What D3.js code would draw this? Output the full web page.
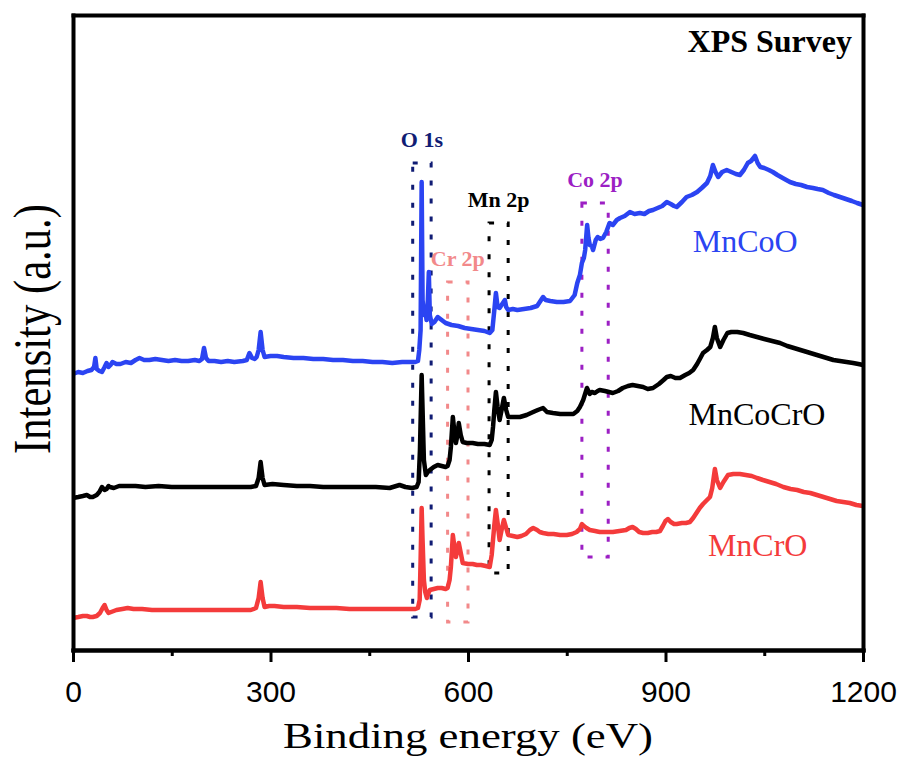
<!DOCTYPE html>
<html lang="en">
<head>
<meta charset="utf-8">
<script src="https://cdn.jsdelivr.net/npm/d3@7"></script>
<style>
  body { margin: 0; background: #fff; }
  svg { display: block; }
</style>
</head>
<body>
<div id="chart"></div>
<script>
// survey spectra: [binding energy (eV), intensity (a.u., stacked)]
var mnCoO = [[0,276],[8,278],[15,277],[22,279],[28,280],[32,283],[34,292],[36,281],[40,279],[44,278],[48,283],[51,287],[54,283],[57,285],[60,288],[66,286],[72,286],[80,288],[88,287],[95,290],[101,292],[108,290],[116,290],[125,291],[135,290],[145,289],[155,290],[165,289],[175,289],[185,290],[192,289],[196,291],[199,302],[202,292],[206,289],[215,289],[225,288],[235,289],[245,288],[258,289],[264,290],[268,297],[272,292],[276,291],[279,293],[282,300],[285,318],[288,300],[291,293],[300,294],[310,294],[320,293],[335,292],[350,292],[365,291],[380,291],[395,290],[410,290],[425,289],[440,289],[455,288],[470,288],[485,287],[500,288],[512,288],[520,288],[524,289],[526,300],[528,320],[529.6,468],[531,350],[533,335],[535,342],[537,330],[539,350],[540.5,378],[542,335],[545,326],[549,328],[554,333],[560,330],[566,327],[575,325],[585,324],[595,322],[605,321],[615,320],[625,319],[633,317],[637,320],[640,340],[642.4,357],[645,343],[648,342],[651,345],[654,348],[656,350],[658,343],[661,340],[668,341],[675,340],[685,341],[695,342],[705,344],[711,350],[714,353],[718,350],[725,349],[735,348],[745,348],[755,349],[762,355],[766,367],[770,375],[773,387],[776,392],[778,400],[781,425],[783,412],[785,405],[788,404],[790,400],[794,410],[797,413],[801,411],[805,412],[810,418],[815,427],[820,425],[826,430],[831,432],[838,434],[846,438],[853,436],[861,437],[868,436],[875,439],[881,440],[888,442],[895,444],[902,448],[908,446],[913,444],[917,443],[925,448],[932,453],[940,455],[948,458],[955,462],[963,467],[968,474],[972,485],[976,478],[980,473],[986,478],[993,480],[1000,478],[1007,476],[1013,475],[1019,480],[1025,487],[1030,489],[1036,494],[1040,487],[1044,483],[1050,482],[1057,480],[1063,478],[1070,475],[1078,472],[1089,468],[1098,466],[1106,465],[1115,463],[1124,462],[1131,461],[1139,460],[1148,457],[1156,455],[1165,453],[1174,451],[1183,449],[1191,447],[1200,445]];

var mnCoCrO = [[0,152],[8,153],[15,154],[21,155],[26,153],[30,153],[36,155],[40,158],[44,163],[48,160],[51,161],[54,164],[56,163],[62,162],[70,164],[82,164],[95,164],[110,163],[130,164],[150,163],[175,163],[200,163],[225,163],[250,163],[270,163],[278,164],[282,172],[285,188],[288,172],[291,165],[303,166],[320,165],[340,164],[360,164],[380,163],[400,163],[420,163],[440,163],[460,163],[481,162],[496,165],[505,163],[515,162],[522,163],[525,168],[527,200],[529.6,275],[531,240],[533,190],[536,175],[539,178],[542,180],[548,183],[554,185],[560,184],[566,183],[569,184],[572,190],[574,203],[577,233],[579,220],[581.6,207],[584,215],[586,227],[589,215],[592,208],[598,207],[607,207],[615,206],[625,206],[633,205],[636,210],[638,223],[640,240],[642.4,258],[645,243],[648,230],[651,240],[654.5,252],[658,240],[661,233],[668,233],[679,233],[689,235],[699,238],[706,240],[714,242],[720,238],[729,237],[740,236],[750,236],[760,236],[766,239],[770,243],[775,250],[780.7,262],[785,256],[788,258],[792.8,257],[797,259],[800,260],[808,259],[814,258],[820,257],[828,259],[835,262],[843,264],[850,265],[858,264],[866,263],[873,261],[881,262],[890,266],[897,270],[902,273],[908,274],[915,272],[922,272],[930,275],[936,277],[942,280],[948,286],[953,292],[957,297],[963,300],[968,303],[972,312],[975,323],[978,312],[983,303],[988,310],[994,317],[1000,318],[1009,318],[1018,317],[1028,315],[1039,313],[1050,311],[1062,309],[1074,307],[1085,304],[1095,302],[1105,300],[1115,298],[1125,296],[1135,294],[1145,292],[1155,290],[1165,289],[1175,288],[1185,287],[1193,286],[1200,285]];

var mnCrO = [[0,32],[8,33],[15,34],[21,34],[26,33],[30,33],[36,34],[41,37],[45,42],[48,45],[51,40],[54,37],[58,38],[66,40],[75,41],[83,42],[92,41],[105,41],[120,40],[132,40],[150,40],[175,40],[200,40],[225,40],[250,40],[270,40],[278,42],[282,52],[285,68],[288,52],[291,43],[298,44],[306,44],[320,43],[340,43],[360,42],[380,42],[400,42],[420,41],[440,41],[460,41],[481,41],[500,41],[512,41],[520,41],[524,42],[526.6,50],[528,90],[529.6,142],[531,110],[533,70],[535,58],[537.5,52],[540,57],[542,60],[548,61],[554,62],[560,62],[566,61],[569,62],[572,70],[574,83],[577,115],[579,105],[581.6,93],[584,100],[586,107],[589,97],[592,87],[600,86],[607,86],[613.5,85],[620,85],[627,84],[633,83],[636,95],[638,110],[640,125],[642.4,140],[645,127],[648,110],[651,120],[654.5,130],[658,122],[661,115],[668,114],[675,113],[681,114],[688,116],[694,120],[699,122],[705,120],[709,118],[714,117],[722,116],[730,116],[740,115],[750,115],[758,116],[765,118],[770,121],[773,126],[776,124],[780,122],[785,120],[793,119],[800,118],[810,118],[820,118],[830,119],[840,120],[845,122],[850,123],[855,121],[860,118],[866,117],[873,117],[880,118],[886,118],[891.6,119],[896,124],[900,129],[903.7,131],[908,128],[913,126],[917,126],[925,127],[931,127],[937,128],[942,132],[947,137],[952,142],[957,146],[963,150],[967.6,153],[971,162],[975,181],[978,170],[983,162],[988,168],[995,175],[1003,176],[1013,176],[1022,175],[1031,174],[1039,172],[1048,170],[1058,168],[1068,166],[1079,163],[1090,161],[1100,160],[1110,158],[1120,157],[1130,155],[1140,153],[1150,151],[1160,149],[1170,148],[1180,147],[1190,145],[1200,144]];

var seriesNames = ["MnCoO", "MnCoCrO", "MnCrO"];
// where each sample name is written (eV, a.u.)
var nameEnergy = [1021, 1039, 1040];
var nameLevel = [398, 225, 94];

// dotted boxes marking the core levels
var peakNames = ["O 1s", "Cr 2p", "Mn 2p", "Co 2p"];
var peakLow = [516, 569, 632, 773];
var peakHigh = [544, 600, 661, 813];
var peakTop = [487, 368, 427, 447];
var peakBottom = [33, 28, 77, 93];

var majorTicks = [0, 300, 600, 900, 1200];
var minorTicks = [150, 450, 750, 1050];

var seriesData = [mnCoO, mnCoCrO, mnCrO];
var seriesColors = ["#2b44f2", "#000000", "#f43b3b"];
var peakColors = ["#101c74", "#f2898a", "#000000", "#9c1fc4"];

var margin = {top: 15, right: 38, bottom: 122, left: 73};
var width = 901 - margin.left - margin.right;
var height = 772 - margin.top - margin.bottom;

var svg = d3.select("#chart").append("svg")
  .attr("width", 901)
  .attr("height", 772)
  .style("background", "#fff");

var g = svg.append("g")
  .attr("transform", "translate(" + margin.left + "," + margin.top + ")");

var x = d3.scaleLinear().domain([0, 1200]).range([0, width]);
var y = d3.scaleLinear().domain([0, 635]).range([height, 0]);

var serif = "'Liberation Serif', 'Times New Roman', serif";

// peak boxes
g.selectAll(".peakbox")
  .data(peakNames)
  .enter().append("rect")
  .attr("class", "peakbox")
  .attr("x", function(d, i) { return x(peakLow[i]); })
  .attr("y", function(d, i) { return y(peakTop[i]); })
  .attr("width", function(d, i) { return x(peakHigh[i]) - x(peakLow[i]); })
  .attr("height", function(d, i) { return y(peakBottom[i]) - y(peakTop[i]); })
  .style("fill", "none")
  .style("stroke", function(d, i) { return peakColors[i]; })
  .style("stroke-width", 3)
  .style("stroke-dasharray", "5,13");

g.selectAll(".peaklabel")
  .data(peakNames)
  .enter().append("text")
  .attr("class", "peaklabel")
  .attr("x", function(d, i) { return (x(peakLow[i]) + x(peakHigh[i])) / 2; })
  .attr("y", function(d, i) { return y(peakTop[i]) - 16; })
  .attr("text-anchor", "middle")
  .style("font-family", serif)
  .style("font-weight", "bold")
  .style("font-size", "22px")
  .style("fill", function(d, i) { return peakColors[i]; })
  .text(function(d) { return d; });

// spectra
var line = d3.line()
  .x(function(d) { return x(d[0]); })
  .y(function(d) { return y(d[1]); });

g.selectAll(".spectrum")
  .data(seriesData)
  .enter().append("path")
  .attr("class", "spectrum")
  .attr("d", line)
  .style("fill", "none")
  .style("stroke", function(d, i) { return seriesColors[i]; })
  .style("stroke-width", 4.5)
  .style("stroke-linejoin", "round");

g.selectAll(".name")
  .data(seriesNames)
  .enter().append("text")
  .attr("class", "name")
  .attr("x", function(d, i) { return x(nameEnergy[i]); })
  .attr("y", function(d, i) { return y(nameLevel[i]); })
  .attr("text-anchor", "middle")
  .style("font-family", serif)
  .style("font-size", "32px")
  .style("fill", function(d, i) { return seriesColors[i]; })
  .text(function(d) { return d; });

// frame and axes
var xAxis = d3.axisBottom(x).tickValues(majorTicks).tickFormat(d3.format("d"))
  .tickSize(12).tickSizeOuter(0).tickPadding(19);
var xMinor = d3.axisBottom(x).tickValues(minorTicks).tickSize(6).tickSizeOuter(0).tickFormat("");
var topAxis = d3.axisTop(x).tickValues([]).tickSizeOuter(0);
var leftAxis = d3.axisLeft(y).tickValues([]).tickSizeOuter(0);
var rightAxis = d3.axisRight(y).tickValues([]).tickSizeOuter(0);

var guides = [
  g.append("g").attr("transform", "translate(0," + height + ")").call(xMinor),
  g.append("g").attr("transform", "translate(0," + height + ")").call(xAxis),
  g.append("g").call(topAxis),
  g.append("g").call(leftAxis),
  g.append("g").attr("transform", "translate(" + width + ",0)").call(rightAxis)
];
guides.forEach(function(a) {
  a.selectAll("path").style("stroke", "#000").style("stroke-width", 4).style("stroke-linecap", "square");
  a.selectAll("line").style("stroke", "#000").style("stroke-width", 3);
  a.selectAll("text")
    .style("font-family", "'Liberation Sans', Arial, sans-serif")
    .style("font-size", "30px")
    .style("fill", "#000");
});

svg.append("text")
  .attr("x", 468)
  .attr("y", 748)
  .attr("text-anchor", "middle")
  .attr("textLength", 370)
  .attr("lengthAdjust", "spacingAndGlyphs")
  .style("font-family", serif)
  .style("font-size", "35px")
  .text("Binding energy (eV)");

svg.append("text")
  .attr("transform", "rotate(-90)")
  .attr("x", -329)
  .attr("y", 50)
  .attr("text-anchor", "middle")
  .attr("textLength", 250)
  .attr("lengthAdjust", "spacingAndGlyphs")
  .style("font-family", serif)
  .style("font-size", "52px")
  .text("Intensity (a.u.)");

svg.append("text")
  .attr("x", 852)
  .attr("y", 52)
  .attr("text-anchor", "end")
  .style("font-family", serif)
  .style("font-weight", "bold")
  .style("font-size", "32px")
  .text("XPS Survey");
</script>
</body>
</html>
